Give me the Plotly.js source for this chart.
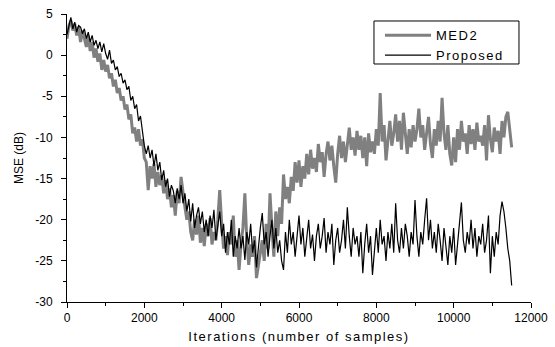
<!DOCTYPE html>
<html>
<head>
<meta charset="utf-8">
<script src="https://cdn.plot.ly/plotly-3.0.1.min.js"></script>
<style>
html,body{margin:0;padding:0;background:#fff;}
#chart{width:555px;height:347px;}
#chart .xtitle{letter-spacing:1.5px;}
#chart .legendtext{letter-spacing:1.5px;}
#chart .legend .scrollbox{clip-path:none !important;}
</style>
</head>
<body>
<div id="chart"></div>
<script>
// Iteration index (samples), step 50
const iterStart = 0, iterStep = 50;

// MSE (dB) of MED2 (gray)
const med2 = [
 2.0, 3.6, 4.2, 3.0, 3.8, 2.4, 3.4, 1.6, 3.0, 2.0,
 1.0, 2.4, 0.5, 1.6, -0.3, 0.8, -0.8, 0.2, -1.8, -0.6,
 -2.0, -1.2, -2.8, -2.2, -3.8, -3.0, -4.6, -4.0, -5.5, -5.0,
 -6.6, -6.0, -7.8, -7.2, -9.5, -8.8, -10.5, -9.0, -11.0, -10.2,
 -12.5, -13.0, -16.4, -13.5, -15.0, -13.2, -16.0, -14.2, -15.8, -14.6,
 -16.8, -15.2, -17.5, -16.2, -18.5, -17.0, -19.5, -16.5, -18.0, -14.8,
 -17.0, -18.5, -20.0, -19.0, -21.5, -22.5, -20.0, -21.8, -19.5, -22.8,
 -21.0, -23.2, -20.5, -22.0, -19.8, -23.0, -21.5, -22.5, -20.0, -16.4,
 -20.5, -23.5, -22.0, -24.3, -21.5, -23.0, -19.5, -24.5, -22.5, -26.1,
 -23.0, -21.0, -16.8, -22.5, -25.5, -23.0, -24.5, -22.0, -27.1, -25.5,
 -24.0, -22.5, -25.0, -20.5, -23.5, -16.8, -21.0, -24.5, -19.0, -22.0,
 -18.5, -20.5, -14.5, -17.5, -16.0, -18.0, -14.8, -16.5, -13.0, -15.5,
 -12.8, -16.0, -13.5, -15.0, -12.0, -14.5, -11.5, -13.8, -12.5, -14.2,
 -10.8, -13.0, -11.8, -14.8, -12.0, -10.5, -12.8, -11.0, -13.5, -15.5,
 -12.0, -9.8, -12.5, -10.5, -13.0, -11.0, -8.8, -11.5, -10.0, -12.2,
 -9.2, -11.5, -9.8, -12.5, -10.0, -13.5, -9.5, -11.8, -10.5, -12.0,
 -9.0, -11.0, -4.6, -10.5, -8.5, -12.8, -10.0, -8.0, -11.0, -9.5,
 -7.2, -10.5, -8.0, -11.5, -7.0, -10.0, -12.0, -9.0, -11.2, -8.5,
 -10.5, -9.0, -6.5, -10.0, -8.5, -11.5, -9.5, -7.5, -10.8, -12.5,
 -9.0, -11.0, -8.0, -10.5, -5.2, -9.5, -11.5, -8.5, -12.0, -13.4,
 -10.0, -13.0, -9.0, -11.5, -8.0, -10.5, -9.5, -12.0, -8.5, -10.8,
 -9.0, -11.5, -8.2, -10.5, -9.8, -11.0, -8.5, -12.8, -7.3, -10.2,
 -11.8, -8.8, -10.5, -9.2, -12.0, -8.0, -10.0, -7.5, -6.9, -9.0, -11.2
];

// MSE (dB) of Proposed (black)
const proposed = [
 2.5, 3.8, 4.6, 3.2, 4.0, 2.8, 3.6, 3.4, 2.6, 3.2,
 2.0, 2.8, 1.6, 2.4, 1.2, 1.8, 0.8, 1.6, 0.4, 1.4,
 0.2, -0.5, 0.6, -1.0, -0.6, -1.8, -1.4, -2.6, -2.2, -3.4,
 -3.0, -4.2, -3.8, -5.5, -5.0, -6.5, -6.0, -8.0, -7.4, -9.2,
 -11.0, -12.0, -11.0, -12.5, -11.5, -13.5, -12.0, -14.0, -13.0, -15.2,
 -14.0, -16.0, -15.0, -17.2, -15.8, -16.5, -18.0, -16.2, -17.5, -15.8,
 -18.0, -16.8, -19.0, -17.5, -20.2, -18.0, -21.0, -19.5, -18.5, -20.5,
 -19.0, -21.5, -20.0, -22.0, -19.5, -21.0, -18.8, -22.5, -20.5, -19.0,
 -22.0, -20.5, -24.0, -21.5, -23.0, -20.0, -24.5, -22.0, -23.5, -21.0,
 -23.5, -22.0, -24.9, -21.5, -23.0, -20.5, -24.0, -22.5, -25.8, -23.0,
 -21.0, -19.2, -23.0, -21.5, -24.5, -22.0, -20.0, -23.5, -21.0, -24.0,
 -22.5, -25.0, -26.1, -21.5, -24.0, -20.0, -23.0, -21.5, -24.5, -22.0,
 -19.5, -23.0, -21.0, -24.5, -22.5, -20.0, -23.5, -21.8, -25.0, -22.0,
 -20.5, -23.5, -22.0, -19.8, -24.0, -21.5, -23.0, -20.5, -25.5, -22.5,
 -21.0, -24.0, -22.5, -20.0, -23.5, -18.5, -22.0, -24.5, -21.0, -23.0,
 -22.0, -24.5, -21.5, -26.5, -23.0, -20.5, -24.0, -22.0, -26.7, -23.5,
 -21.0, -24.0, -20.0, -23.0, -22.0, -25.0, -21.5, -23.5, -20.5, -24.0,
 -18.0, -22.5, -24.0, -21.0, -23.5, -20.5, -22.0, -24.5, -21.5, -23.0,
 -17.6, -22.0, -24.5, -21.5, -23.0, -20.0, -17.4, -22.5, -20.0, -23.5,
 -21.5, -24.0, -20.5, -22.5, -25.0, -21.0, -23.5, -25.5, -22.0, -24.0,
 -21.0, -25.5, -23.0, -20.5, -17.9, -22.5, -24.0, -21.5, -23.0, -20.0,
 -23.5, -21.0, -24.5, -22.0, -23.0, -20.5, -24.0, -22.5, -19.5, -26.5,
 -22.0, -24.5, -21.5, -23.0, -19.5, -17.8, -19.0, -21.0, -23.5, -25.0, -28.0
];

const seriesNames = ["MED2", "Proposed"];
const xTickVals = [0, 2000, 4000, 6000, 8000, 10000, 12000];
const xTickText = ["0", "2000", "4000", "6000", "8000", "10000", "12000"];
const yTickVals = [-30, -25, -20, -15, -10, -5, 0, 5];
const yTickText = ["-30", "-25", "-20", "-15", "-10", "-5", "0", "5"];

const iters = med2.map((_, i) => iterStart + i * iterStep);

const font = "Liberation Sans, Arial, sans-serif";

const traces = [
  {x: iters, y: med2, name: seriesNames[0], type: "scatter", mode: "lines",
   line: {color: "#808080", width: 3}},
  {x: iters, y: proposed, name: seriesNames[1], type: "scatter", mode: "lines",
   line: {color: "#000000", width: 1.2}}
];

const axisCommon = {
  showgrid: false, zeroline: false, showline: true, linecolor: "#000", linewidth: 1,
  ticks: "outside", ticklen: 5, tickwidth: 1, tickcolor: "#000", mirror: false,
  tickfont: {family: font, size: 12, color: "#000"}
};

const layout = {
  width: 555, height: 347,
  margin: {l: 67, r: 24, t: 14, b: 45},
  paper_bgcolor: "#fff", plot_bgcolor: "#fff",
  showlegend: true,
  legend: {x: 0.6746, y: 0.978, xanchor: "left", yanchor: "top",
           itemwidth: 46,
           bgcolor: "rgba(0,0,0,0)", borderwidth: 0,
           font: {family: font, size: 13, color: "#000"}},
  shapes: [{type: "rect", xref: "paper", yref: "paper",
            x0: 0.6616, x1: 0.9741, y0: 0.8264, y1: 0.9757,
            line: {color: "#000", width: 1}, fillcolor: "rgba(0,0,0,0)"}],
  xaxis: Object.assign({}, axisCommon, {
    range: [0, 12000], tickvals: xTickVals, ticktext: xTickText,
    minor: {dtick: 1000, ticklen: 3, tickcolor: "#000", ticks: "outside"},
    title: {text: "Iterations (number of samples)", font: {family: font, size: 13, color: "#000"}, standoff: 7}
  }),
  yaxis: Object.assign({}, axisCommon, {
    range: [-30, 5], tickvals: yTickVals, ticktext: yTickText,
    minor: {dtick: 2.5, ticklen: 3, tickcolor: "#000", ticks: "outside"},
    ticklabelstandoff: 6,
    title: {text: "MSE (dB)", font: {family: font, size: 12, color: "#000"}, standoff: 9}
  })
};

Plotly.newPlot("chart", traces, layout, {displayModeBar: false, staticPlot: true});
</script>
</body>
</html>
